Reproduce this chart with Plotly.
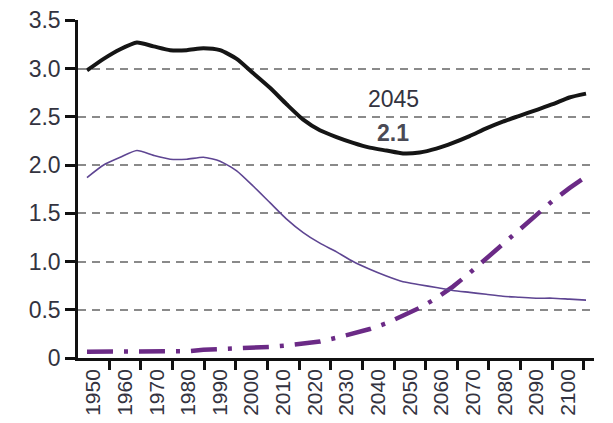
import plotly.graph_objects as go

years = list(range(1950, 2101, 5))
total = [2.98, 3.10, 3.20, 3.27, 3.23, 3.19, 3.19, 3.21, 3.19, 3.10, 2.95, 2.80, 2.63, 2.47,
         2.36, 2.29, 2.23, 2.18, 2.15, 2.12, 2.13, 2.17, 2.23, 2.30, 2.38, 2.45, 2.51, 2.57,
         2.63, 2.70, 2.74]
thin = [1.87, 2.00, 2.08, 2.15, 2.10, 2.06, 2.06, 2.08, 2.04, 1.94, 1.78, 1.61, 1.44, 1.30,
        1.19, 1.10, 1.00, 0.92, 0.85, 0.79, 0.76, 0.73, 0.70, 0.68, 0.66, 0.64, 0.63, 0.62,
        0.62, 0.61, 0.60]
dashdot = [0.065, 0.065, 0.065, 0.065, 0.065, 0.065, 0.07, 0.085, 0.09, 0.10, 0.11, 0.115,
           0.13, 0.15, 0.17, 0.21, 0.25, 0.30, 0.36, 0.44, 0.52, 0.62, 0.74, 0.88, 1.03, 1.17,
           1.32, 1.48, 1.63, 1.76, 1.88]

x_labels = [str(y) for y in range(1950, 2101, 10)]
y_ticks = [0, 0.5, 1.0, 1.5, 2.0, 2.5, 3.0, 3.5]
y_labels = ["0", "0.5", "1.0", "1.5", "2.0", "2.5", "3.0", "3.5"]

annot_year = "2045"
annot_value = "2.1"

# layout geometry (in year units): decade slots offset from data positions
slot = 9.51
first_boundary = 1947.2
boundaries = [first_boundary + slot * k for k in range(len(x_labels) + 1)]
centers = [first_boundary + slot * (k + 0.5) for k in range(len(x_labels))]

FONT = "Liberation Sans Narrow, Liberation Sans, Arial, sans-serif"
TXT = "#333340"

fig = go.Figure()
fig.add_trace(go.Scatter(x=years, y=dashdot, mode="lines",
                         line=dict(color="#6b2a86", width=4.5, dash="26px,11px,4px,11px"),
                         showlegend=False))
fig.add_trace(go.Scatter(x=years, y=thin, mode="lines",
                         line=dict(color="#5e4592", width=1.6, shape="spline", smoothing=0.6),
                         showlegend=False))
fig.add_trace(go.Scatter(x=years, y=total, mode="lines",
                         line=dict(color="#151515", width=4, shape="spline", smoothing=0.6),
                         showlegend=False))

fig.add_annotation(x=2042, y=2.68, text=annot_year, showarrow=False,
                   font=dict(family=FONT, size=23, color=TXT))
fig.add_annotation(x=2042, y=2.33, text="<b>" + annot_value + "</b>", showarrow=False,
                   font=dict(family=FONT, size=23, color="#4a4a55"))

# page body has an 8px margin; size/margins compensate so the plot lands where the reference has it
fig.update_layout(
    width=605, height=415,
    margin=dict(l=70, r=19, t=12, b=65),
    paper_bgcolor="white", plot_bgcolor="white",
    font=dict(family=FONT, size=23, color=TXT),
)
fig.update_xaxes(
    range=[1947.3, 2102.4], automargin=False,
    tickmode="array", tickvals=centers, ticktext=x_labels, tickangle=-90,
    ticks="", showgrid=False, zeroline=False,
    showline=True, linecolor="#111", linewidth=2.5,
    tickfont=dict(family=FONT, size=21, color=TXT),
    minor=dict(tickmode="array", tickvals=boundaries, ticks="outside", ticklen=9,
               tickwidth=2.5, tickcolor="#111", showgrid=False),
)
fig.update_yaxes(
    range=[0, 3.503], automargin=False,
    tickmode="array", tickvals=y_ticks, ticktext=y_labels,
    ticks="outside", ticklen=10, tickwidth=2.5, tickcolor="#111",
    showline=True, linecolor="#111", linewidth=2.5,
    showgrid=True, gridcolor="#8a8a8a", gridwidth=1.5, griddash="8px,6px",
    zeroline=False, ticklabeloverflow="allow",
    tickfont=dict(family=FONT, size=23, color=TXT),
)

fig.write_html("out.html")
